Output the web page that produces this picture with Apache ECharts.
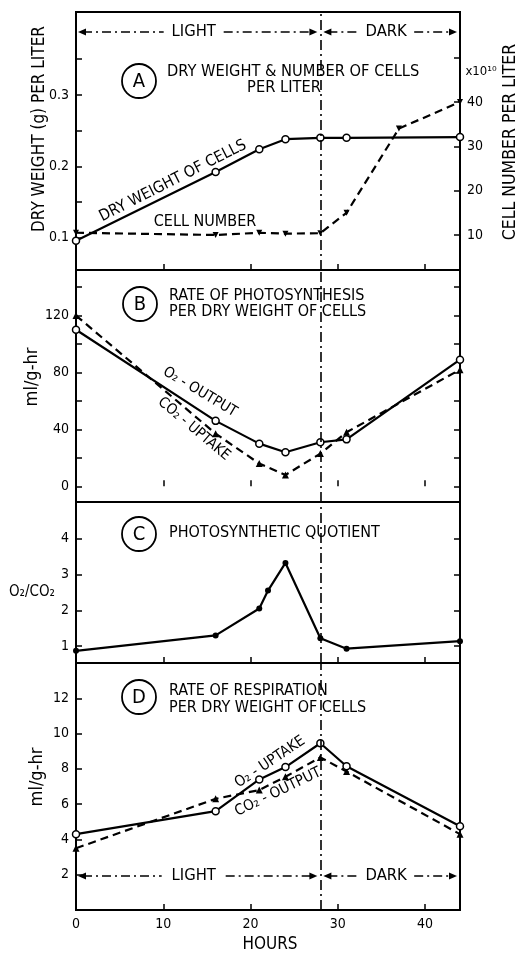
<!DOCTYPE html>
<html><head><meta charset="utf-8">
<script src="https://cdn.jsdelivr.net/npm/echarts@6/dist/echarts.min.js"></script>
<style>html,body{margin:0;padding:0;background:#fff}#c{width:529px;height:956px}</style>
</head><body><div id="c"></div>
<script>
const FONT = "'DejaVu Sans Condensed','DejaVu Sans',sans-serif";

// ---- data ----
const hoursMain = [0, 16, 21, 24, 28, 31, 44];
const dryWeight = [0.096, 0.192, 0.224, 0.238, 0.240, 0.240, 0.241];
const hoursCells = [0, 16, 21, 24, 28, 31, 37, 44];
const cellNumber = [10.5, 10, 10.5, 10.3, 10.4, 15, 34, 40];
const o2Output = [110, 46, 30, 24, 31, 33, 89];
const co2Uptake = [120, 37, 16, 8, 23, 38, 82];
const hoursPQ = [0, 16, 21, 22, 24, 28, 31, 44];
const photoQuotient = [0.87, 1.3, 2.05, 2.55, 3.32, 1.22, 0.93, 1.14];
const o2Uptake = [4.3, 5.6, 7.4, 8.1, 9.45, 8.15, 4.75];
const co2Output = [3.5, 6.3, 6.8, 7.55, 8.65, 7.85, 4.3];
const lightDarkHour = 28;

// ---- tick labels ----
const xTickLabels = [0, 10, 20, 30, 40];
const xInnerTicks = [10, 20, 30, 40];
const ticksA = [0.1, 0.15, 0.2, 0.25, 0.3, 0.35];
const labelsA = [0.1, 0.2, 0.3];
const ticksARight = [10, 20, 30, 40, 50];
const labelsARight = [10, 20, 30, 40];
const ticksB = [0, 20, 40, 60, 80, 100, 120, 140];
const labelsB = [0, 40, 80, 120];
const ticksC = [1, 2, 3, 4];
const ticksD = [2, 4, 6, 8, 10, 12];

const zip = (xs, ys) => xs.map((x, i) => [x, ys[i]]);

const chart = echarts.init(document.getElementById('c'), null, {renderer: 'canvas'});

const grids = [
  {top: 12, height: 258},
  {top: 270, height: 232},
  {top: 502, height: 161},
  {top: 663, height: 247}
].map(g => Object.assign({left: 76, width: 384, show: true, borderColor: '#000', borderWidth: 2, backgroundColor: 'transparent'}, g));

const tickStyle = {color: '#000', width: 1.5};
const labelStyle = {color: '#000', fontSize: 14, fontFamily: FONT};

const xAxes = [0, 1, 2, 3].map(i => ({
  gridIndex: i, type: 'value', min: 0, max: 44,
  splitLine: {show: false},
  axisLine: {show: false},
  axisTick: {show: true, inside: true, length: 6, lineStyle: tickStyle, customValues: xInnerTicks},
  axisLabel: Object.assign({show: i === 3, customValues: xTickLabels, margin: 7}, labelStyle)
}));

function yAx(grid, min, max, pos, ticks, labels, fmt) {
  return {
    gridIndex: grid, type: 'value', min: min, max: max, position: pos,
    splitLine: {show: false},
    axisLine: {show: false},
    axisTick: {show: true, inside: true, length: 6, lineStyle: tickStyle, customValues: ticks},
    axisLabel: Object.assign({show: !!labels, customValues: labels || ticks, margin: 7,
      formatter: fmt || (v => String(v))}, labelStyle)
  };
}

const yAxes = [
  yAx(0, 0.055, 0.416, 'left', ticksA, labelsA, v => v.toFixed(1)),
  yAx(0, 2.1, 60.3, 'right', ticksARight, labelsARight),
  yAx(1, -11, 152, 'left', ticksB, labelsB),
  yAx(1, -11, 152, 'right', ticksB, null),
  yAx(2, 0.53, 5.02, 'left', ticksC, ticksC),
  yAx(2, 0.53, 5.02, 'right', ticksC, null),
  yAx(3, 0, 14, 'left', ticksD, ticksD)
];

const vLine = {
  silent: true, symbol: 'none', animation: false,
  label: {show: false},
  lineStyle: {color: '#000', width: 1.6, type: [10, 4, 2, 4]},
  data: [{xAxis: lightDarkHour}]
};

const solid = {color: '#000', width: 2.2};
const dashed = {color: '#000', width: 2.2, type: [8, 5]};
const openCircle = {color: '#fff', borderColor: '#000', borderWidth: 1.5};
const filled = {color: '#000'};

const series = [
  {name: 'Dry weight of cells', type: 'line', xAxisIndex: 0, yAxisIndex: 0, data: zip(hoursMain, dryWeight),
   lineStyle: solid, symbol: 'circle', symbolSize: 7, itemStyle: openCircle, markLine: vLine, z: 3},
  {name: 'Cell number', type: 'line', xAxisIndex: 0, yAxisIndex: 1, data: zip(hoursCells, cellNumber),
   lineStyle: dashed, symbol: 'triangle', symbolRotate: 180, symbolSize: 6, itemStyle: filled, z: 2},
  {name: 'O2 output', type: 'line', xAxisIndex: 1, yAxisIndex: 2, data: zip(hoursMain, o2Output),
   lineStyle: solid, symbol: 'circle', symbolSize: 7, itemStyle: openCircle, markLine: vLine, z: 3},
  {name: 'CO2 uptake', type: 'line', xAxisIndex: 1, yAxisIndex: 2, data: zip(hoursMain, co2Uptake),
   lineStyle: dashed, symbol: 'triangle', symbolSize: 7, itemStyle: filled, z: 2},
  {name: 'Photosynthetic quotient', type: 'line', xAxisIndex: 2, yAxisIndex: 4, data: zip(hoursPQ, photoQuotient),
   lineStyle: solid, symbol: 'circle', symbolSize: 6, itemStyle: filled, markLine: vLine, z: 3},
  {name: 'O2 uptake', type: 'line', xAxisIndex: 3, yAxisIndex: 6, data: zip(hoursMain, o2Uptake),
   lineStyle: solid, symbol: 'circle', symbolSize: 7, itemStyle: openCircle, markLine: vLine, z: 3},
  {name: 'CO2 output', type: 'line', xAxisIndex: 3, yAxisIndex: 6, data: zip(hoursMain, co2Output),
   lineStyle: dashed, symbol: 'triangle', symbolSize: 7, itemStyle: filled, z: 2}
];

chart.setOption({
  animation: false,
  backgroundColor: '#fff',
  grid: grids, xAxis: xAxes, yAxis: yAxes, series: series
});

// ---- annotations ----
function T(text, x, y, size, opts) {
  return Object.assign({type: 'text', x: x, y: y, z: 50,
    style: {text: text, fill: '#000', font: size + 'px ' + FONT, align: 'center', verticalAlign: 'middle'}}, opts || {});
}
function TL(text, x, y, size) {
  return {type: 'text', x: x, y: y, z: 50,
    style: {text: text, fill: '#000', font: size + 'px ' + FONT, align: 'left', verticalAlign: 'middle'}};
}
function circled(letter, cx, cy) {
  return [
    {type: 'circle', shape: {cx: cx, cy: cy, r: 17}, style: {fill: 'none', stroke: '#000', lineWidth: 1.8}, z: 50},
    T(letter, cx, cy + 1, 20)
  ];
}
const px = h => chart.convertToPixel({xAxisIndex: 0}, h);
const xL = px(0), xM = px(lightDarkHour), xR = px(44);

function arrowRow(y, a, b, label, halfW) {
  const mid = (a + b) / 2 - 4;
  const dash = {stroke: '#000', lineWidth: 1.5, lineDash: [9, 4, 2, 4]};
  return [
    {type: 'line', shape: {x1: a + 6, y1: y, x2: mid - halfW - 6, y2: y}, style: dash, z: 50},
    {type: 'line', shape: {x1: mid + halfW + 6, y1: y, x2: b - 6, y2: y}, style: dash, z: 50},
    {type: 'polygon', shape: {points: [[a + 1, y], [a + 9, y - 3.5], [a + 9, y + 3.5]]}, style: {fill: '#000'}, z: 50},
    {type: 'polygon', shape: {points: [[b - 1, y], [b - 9, y - 3.5], [b - 9, y + 3.5]]}, style: {fill: '#000'}, z: 50},
    T(label, mid, y, 16.5)
  ];
}

const g = [];
// panel A
g.push(...circled('A', 139, 81));
g.push(TL('DRY WEIGHT & NUMBER OF CELLS', 167, 72, 16.3));
g.push(T('PER LITER', 284, 88, 16.3));
g.push(...arrowRow(32, xL + 1, xM - 2, 'LIGHT', 24));
g.push(...arrowRow(32, xM + 2, xR - 2, 'DARK', 22));
g.push(T('DRY WEIGHT OF CELLS', 173, 181, 15.8, {rotation: 0.47}));
g.push(T('CELL NUMBER', 205, 222, 16));
g.push(T('x10\u00B9\u2070', 481, 72, 13));
g.push(T('DRY WEIGHT (g) PER LITER', 40, 129, 17, {rotation: Math.PI / 2}));
g.push(T('CELL NUMBER PER LITER', 510, 142, 17.5, {rotation: Math.PI / 2}));
// panel B
g.push(...circled('B', 140, 304));
g.push(TL('RATE OF PHOTOSYNTHESIS', 169, 296, 16));
g.push(TL('PER DRY WEIGHT OF CELLS', 169, 312, 16));
g.push(T('O\u2082 - OUTPUT', 200, 392, 14.8, {rotation: -0.54}));
g.push(T('CO\u2082 - UPTAKE', 194, 429, 14.8, {rotation: -0.70}));
g.push(T('ml/g-hr', 32, 377, 18, {rotation: Math.PI / 2}));
// panel C
g.push(...circled('C', 139, 534));
g.push(TL('PHOTOSYNTHETIC QUOTIENT', 169, 533, 16));
g.push(T('O\u2082/CO\u2082', 32, 592, 15));
// panel D
g.push(...circled('D', 139, 697));
g.push(TL('RATE OF RESPIRATION', 169, 691, 16));
g.push(TL('PER DRY WEIGHT OF CELLS', 169, 708, 16));
g.push(T('O\u2082 - UPTAKE', 270, 762, 15, {rotation: 0.59}));
g.push(T('CO\u2082 - OUTPUT', 278, 792, 15, {rotation: 0.45}));
g.push(T('ml/g-hr', 37, 777, 18, {rotation: Math.PI / 2}));
g.push(...arrowRow(876, xL + 1, xM - 2, 'LIGHT', 26));
g.push(...arrowRow(876, xM + 2, xR - 2, 'DARK', 22));
g.push(T('HOURS', 270, 945, 17));

chart.setOption({graphic: {elements: g}});
</script>
</body></html>
